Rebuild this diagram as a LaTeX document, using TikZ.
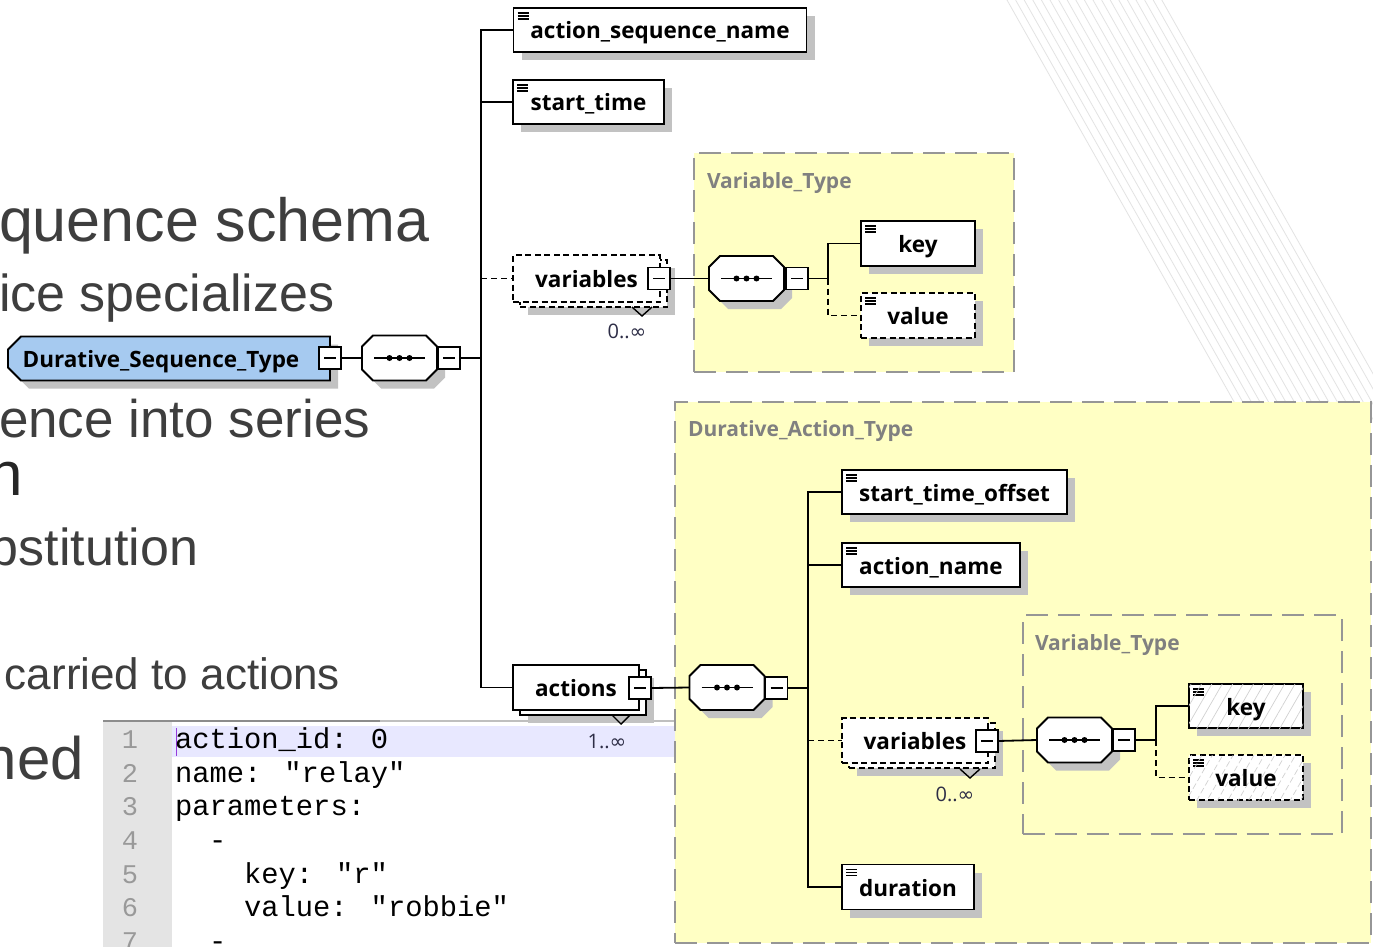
\documentclass[tikz,border=0pt]{standalone}
\usepackage{fontspec}
\setmainfont{Open Sans}
\newfontfamily\slidefont{Liberation Sans}
\newfontfamily\codefont{Liberation Mono}
\newfontfamily\symfont{DejaVu Sans}
\usetikzlibrary{shadows,patterns.meta}

\definecolor{typeblue}{RGB}{166,202,240}
\definecolor{groupyellow}{RGB}{255,255,196}
\definecolor{framegray}{RGB}{150,150,150}
\definecolor{labelgray}{RGB}{128,128,128}
\definecolor{slidetext}{RGB}{62,62,62}
\definecolor{gutter}{RGB}{228,228,228}
\definecolor{linehl}{RGB}{232,232,255}
\definecolor{occur}{RGB}{45,45,70}
\definecolor{caret}{RGB}{150,60,220}
\definecolor{shadowgray}{RGB}{194,194,194}

\newcommand\infsym{{\symfont\char"221E}}

% octagon outline around a named node: node, x offset, y offset, path options
\newcommand\octagon[4]{%
  \path[#4] ([shift={(#2+11pt,#3)}]#1.north west) -- ([shift={(#2-11pt,#3)}]#1.north east)
    -- ([shift={(#2,#3-11pt)}]#1.north east) -- ([shift={(#2,#3+11pt)}]#1.south east)
    -- ([shift={(#2-11pt,#3)}]#1.south east) -- ([shift={(#2+11pt,#3)}]#1.south west)
    -- ([shift={(#2,#3+11pt)}]#1.south west) -- ([shift={(#2,#3-11pt)}]#1.north west) -- cycle;}

% sequence compositor: name, x, y
\newcommand\compositor[3]{%
  \node[seqarea] (#1) at (#2,#3) {};
  \octagon{#1}{8pt}{-8pt}{fill=shadowgray}
  \octagon{#1}{0pt}{0pt}{fill=white, draw=black, line width=1.8pt}
  \draw[line width=1.5pt] ([xshift=12pt]#1.west) -- ([xshift=-12pt]#1.east);
  \foreach \d in {-10,0,10}{\fill[black] ([xshift=\d pt]#1.center) circle[radius=3pt];}}

% complex type head, chamfered on the left: node, x offset, y offset, path options
\newcommand\typeshape[4]{%
  \path[#4] ([shift={(#2+13pt,#3)}]#1.north west) -- ([shift={(#2,#3)}]#1.north east)
    -- ([shift={(#2,#3)}]#1.south east) -- ([shift={(#2+13pt,#3)}]#1.south west)
    -- ([shift={(#2,#3+13pt)}]#1.south west) -- ([shift={(#2,#3-13pt)}]#1.north west) -- cycle;}

\tikzset{
  boxshadow/.style={drop shadow={shadow xshift=8pt, shadow yshift=-8pt, fill=shadowgray, opacity=1}},
  elemtext/.style={font=\bfseries\fontsize{22.5}{26}\selectfont, text height=20pt, text depth=2pt},
  elembase/.style={rectangle, draw=black, line width=1.8pt, fill=white, minimum height=44pt, elemtext},
  elem/.style={elembase, boxshadow},
  optional/.style={dash pattern=on 6pt off 3.5pt},
  docicon/.style={path picture={\foreach \k in {5,8,11}{\draw[black, solid, line width=1.1pt] ([xshift=4pt,yshift=-\k pt]path picture bounding box.north west) -- ++(11pt,0pt);}}},
  simple/.style={elem, docicon},
  hatched/.style={postaction={pattern={Lines[angle=60,distance=9pt,line width=0.7pt]}, pattern color=black!18}},
  minus/.style={rectangle, draw=black, line width=1.6pt, fill=white, minimum size=22pt,
    path picture={\draw[black, solid, line width=1.4pt] ([xshift=5pt]path picture bounding box.west) -- ([xshift=-5pt]path picture bounding box.east);}},
  seqarea/.style={rectangle, minimum width=75pt, minimum height=45pt},
  typearea/.style={rectangle, minimum width=322pt, minimum height=44pt},
  group/.style={rectangle, draw=framegray, line width=2pt, dash pattern=on 22pt off 10pt, fill=groupyellow},
  grouplabel/.style={anchor=west, text=labelgray, font=\bfseries\fontsize{21}{25}\selectfont},
  link/.style={draw=black, line width=1.8pt},
  optlink/.style={link, dash pattern=on 6pt off 4pt},
  occurs/.style={text=occur, font=\fontsize{20}{24}\selectfont},
  chevron/.style={draw=black, line width=1.4pt},
  slide/.style={text=slidetext, font=\slidefont\fontsize{#1}{#1}\selectfont},
  code/.style={anchor=base west, font=\codefont\fontsize{28.8}{34}\selectfont},
  lineno/.style={anchor=base, text=black!40, font=\codefont\fontsize{27}{34}\selectfont},
  diagline/.style={draw=black!11, line width=0.8pt},
}

\begin{document}
\begin{tikzpicture}[x=1pt, y=-1pt, every node/.style={inner sep=0pt, outer sep=0pt}]
\useasboundingbox (0,0) rectangle (1373,947);
\clip (0,0) rectangle (1373,947);
\fill[white] (0,0) rectangle (1373,947);

% slide decoration: thin diagonal lines
\foreach \i in {0,...,18}{\draw[diagline] (1007+8.6*\i,0) -- ++(243,430);}

% slide bullet text
\node[slide=61, anchor=base west] (s1) at (-1,241) {quence schema};
\node[slide=52, anchor=base west] (s2) at (-1,311) {ice specializes};
\node[slide=53, anchor=base west] (s3) at (-1,437) {ence into series};
\node[slide=62, anchor=base east, text=black!85] (s4) at (23,495) {n};
\node[slide=52, anchor=base east] (s5) at (198,565) {bstitution};
\node[slide=44, anchor=base west] (s6) at (5,689) {carried to actions};
\node[slide=60, anchor=base east] (s7) at (84,779) {ned};

% code editor
\fill[white] (103,720) rectangle (675,947);
\fill[gutter] (103,722) rectangle (172,947);
\fill[linehl] (172,726) rectangle (675,757);
\draw[black!45, line width=2pt] (103,721) -- (380,721);
\draw[black!25, line width=2pt] (380,721) -- (675,721);
\draw[caret, line width=1pt] (176,728) -- (176,756);
\foreach \n/\yb in {1/748,2/782,3/815,4/849,5/883,6/916,7/950}{\node[lineno] (ln\n) at (130,\yb) {\n};}
\node[code] (c1) at (175,748) {action\_id: 0};
\node[code] (c2) at (175,782) {name: "relay"};
\node[code] (c3) at (175,815) {parameters:};
\node[code] (c4) at (209,849) {-};
\node[code] (c5) at (244,883) {key: "r"};
\node[code] (c6) at (244,916) {value: "robbie"};
\node[code] (c7) at (209,950) {-};

% type groups
\node[group, minimum width=320pt, minimum height=219pt] (vt1) at (854,262.5) {};
\node[grouplabel] (vt1l) at (707,183) {Variable\_Type};
\node[group, minimum width=696pt, minimum height=541pt] (dat) at (1023,672.5) {};
\node[grouplabel] (datl) at (688,431) {Durative\_Action\_Type};
\node[group, minimum width=319pt, minimum height=219pt] (vt2) at (1182,724.5) {};
\node[grouplabel] (vt2l) at (1035,645) {Variable\_Type};

% root type
\node[typearea] (dst) at (169,358.5) {};
\typeshape{dst}{8pt}{-8pt}{fill=shadowgray}
\typeshape{dst}{0pt}{0pt}{fill=typeblue, draw=black, line width=1.8pt}
\node[elemtext] (dstt) at (161,358) {Durative\_Sequence\_Type};
\node[minus] (dstm) at (330,358) {};
\compositor{seq1}{399.5}{358}
\node[minus] (seq1m) at (449,358) {};
\coordinate (t1) at (481,358);

% root children
\node[simple, minimum width=293pt] (asn) at (660,30) {action\_sequence\_name};
\node[simple, minimum width=151pt] (st) at (588.5,102) {start\_time};
\node[elem, optional, minimum width=147pt, minimum height=47pt] (vars1b) at (593.5,283.5) {};
\node[elembase, optional, minimum width=147pt, minimum height=47pt] (vars1) at (586.5,278.5) {variables};
\node[minus] (vars1m) at (659,278.5) {};
\draw[chevron] (632,307) -- (642,316) -- (652,307);
\node[occurs] (vars1o) at (627,331) {0..\infsym};
\node[elem, minimum width=126pt, minimum height=45pt] (actb) at (583,692.5) {};
\node[elembase, minimum width=126pt, minimum height=45pt] (act) at (576,687.5) {actions};
\node[minus] (actm) at (640,688) {};
\draw[chevron] (612,715) -- (621,724) -- (630,715);
\node[occurs] (acto) at (607,741) {1..\infsym};

\draw[link] (dstm.east) -- (seq1.west);
\draw[link] (seq1m.east) -- (t1);
\draw[link] (t1) |- (asn.west);
\draw[link] (t1) |- (st.west);
\draw[link] (t1) |- (act.west);
\draw[optlink] (vars1.west -| t1) -- (vars1.west);

% Variable_Type content (root variables)
\compositor{seq2}{746.5}{278.5}
\node[minus] (seq2m) at (797,278.5) {};
\coordinate (t2) at (828,278.5);
\node[simple, minimum width=114pt, minimum height=45pt] (key1) at (918,243.5) {key};
\node[simple, optional, minimum width=114pt, minimum height=45pt] (val1) at (918,315.5) {value};
\draw[link] (vars1m.east) -- (seq2.west);
\draw[link] (seq2m.east) -- (t2);
\draw[link] (t2) |- (key1.west);
\draw[optlink] (t2) |- (val1.west);

% Durative_Action_Type content
\compositor{seq3}{727}{687.5}
\node[minus] (seq3m) at (776.5,688) {};
\coordinate (t3) at (808,688);
\node[simple, minimum width=225pt] (sto) at (954.5,492) {start\_time\_offset};
\node[simple, minimum width=178pt] (an) at (931,565) {action\_name};
\node[elem, optional, minimum width=146pt, minimum height=45pt] (vars2b) at (922,745.5) {};
\node[elembase, optional, minimum width=146pt, minimum height=45pt] (vars2) at (915,740.5) {variables};
\node[minus] (vars2m) at (987,741) {};
\draw[chevron] (960,769) -- (970,778) -- (980,769);
\node[occurs] (vars2o) at (955,794) {0..\infsym};
\node[simple, minimum width=132pt, minimum height=45pt] (dur) at (908,887) {duration};
\draw[link] (actm.east) -- (seq3.west);
\draw[link] (seq3m.east) -- (t3);
\draw[link] (t3) |- (sto.west);
\draw[link] (t3) |- (an.west);
\draw[link] (t3) |- (dur.west);
\draw[optlink] (vars2.west -| t3) -- (vars2.west);

% nested Variable_Type content
\compositor{seq4}{1074.5}{740}
\node[minus] (seq4m) at (1124,740) {};
\coordinate (t4) at (1156,740);
\node[simple, hatched, minimum width=114pt] (key2) at (1246,706) {key};
\node[simple, hatched, optional, minimum width=114pt, minimum height=45pt] (val2) at (1246,777.5) {value};
\draw[link] (vars2m.east) -- (seq4.west);
\draw[link] (seq4m.east) -- (t4);
\draw[link] (t4) |- (key2.west);
\draw[optlink] (t4) |- (val2.west);
\end{tikzpicture}
\end{document}
